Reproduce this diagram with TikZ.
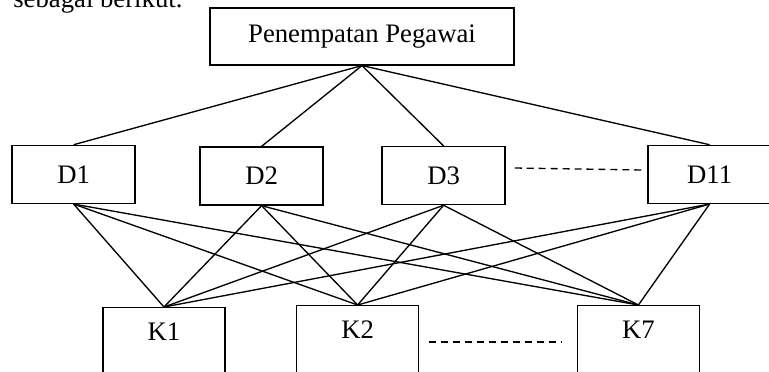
\documentclass[tikz,border=0pt]{standalone}
\usepackage{fontspec}
\setmainfont{Liberation Serif}
\usepackage{tikz}

\begin{document}
\begin{tikzpicture}[line width=0.95pt,
        every node/.style={font=\fontsize{19}{22}\selectfont},
        dbox/.style={draw, minimum width=3.075cm, minimum height=1.45cm, inner sep=0pt},
        kbox/.style={draw, anchor=north, minimum width=3.05cm, text height=0.43cm, text depth=1.2cm, inner xsep=0pt, inner ysep=0.4cm},
        gap/.style={dash pattern=on 5pt off 3.5pt}]
            \useasboundingbox (0, 0) rectangle (19.225, -9.3);

            \node[anchor=base west] (intro) at (0.2, -0.2) {sebagai berikut.};

            \node[draw, minimum width=7.6cm, minimum height=1.425cm] (top) at (9.05, -0.91) {Penempatan Pegawai};

            \node[dbox] (d1) at (1.84, -4.36) {D1};
            \node[dbox] (d2) at (6.54, -4.4) {D2};
            \node[dbox] (d3) at (11.09, -4.39) {D3};
            \node[dbox] (d11) at (17.74, -4.36) {D11};

            \node[kbox] (k1) at (4.1, -7.675) {K1};
            \node[kbox] (k2) at (8.94, -7.625) {K2};
            \node[kbox] (k7) at (15.96, -7.625) {K7};

            \foreach \d in {d1, d2, d3, d11} {
                \draw (top.south) -- (\d.north);
                \foreach \k in {k1, k2, k7}
                    \draw (\d.south) -- (\k.north);
            }

            \draw[gap] ([xshift=0.225cm, yshift=0.19cm]d3.east) -- ([xshift=-0.15cm, yshift=0.11cm]d11.west);
            \draw[gap] ([xshift=0.25cm, yshift=-0.925cm]k2.north east) -- ([xshift=-0.375cm, yshift=-0.925cm]k7.north west);
        \end{tikzpicture}
\end{document}
